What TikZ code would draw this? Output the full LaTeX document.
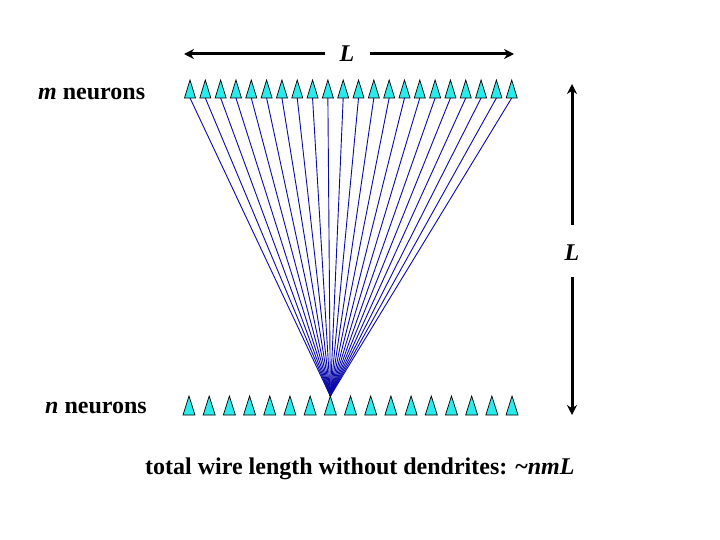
\documentclass[tikz,border=0pt]{standalone}
\usepackage{fontspec}
\setmainfont{Liberation Serif}
\usetikzlibrary{arrows.meta}
\definecolor{tricyan}{RGB}{40,235,235}
\definecolor{wireblue}{RGB}{10,10,170}
\tikzset{
  neuron/.style={fill=tricyan,draw=black,line width=0.7pt,line join=miter},
  wire/.style={draw=wireblue,line width=0.9pt},
  dimarrow/.style={line width=3pt,-{Stealth[length=10pt,width=10pt]}},
  lbl/.style={font=\fontsize{24}{28}\selectfont\bfseries,inner sep=0pt},
}
\begin{document}
\begin{tikzpicture}[x=1pt,y=-1pt]
\useasboundingbox[fill=white] (0,0) rectangle (720,540);
% bottom neurons: apex coordinates
\foreach \j in {0,...,16}{
  \pgfmathsetmacro\bx{189+\j*20.19}
  \coordinate (b\j) at (\bx,396);
}
% top neurons: base centre coordinates
\foreach \i in {0,...,21}{
  \pgfmathsetmacro\tx{190+\i*15.32}
  \coordinate (t\i) at (\tx,98);
}
% wires
\foreach \i in {0,...,21}{
  \draw[wire] (t\i) -- (b7);
}
% top triangles
\foreach \i in {0,...,21}{
  \draw[neuron] (t\i) ++(-5.5,0) -- ++(5.5,-18) -- ++(5.5,18) -- cycle;
}
% bottom triangles
\foreach \j in {0,...,16}{
  \draw[neuron] (b\j) -- ++(6,19) -- ++(-12,0) -- cycle;
}
% labels
\node[lbl,anchor=base west] (mlab) at (38,100) {\itshape m\upshape{} neurons};
\node[lbl,anchor=base west] (nlab) at (45,413) {\itshape n\upshape{} neurons};
\node[lbl,anchor=base west] (total) at (145,474) {total wire length without dendrites: \textasciitilde\itshape nmL};
% horizontal L arrow
\node[lbl] (Ltop) at (347,54) {\itshape L};
\coordinate (hlm) at (325,54);
\coordinate (hrm) at (370,54);
\coordinate (hl) at (184,54);
\coordinate (hr) at (514,54);
\draw[dimarrow] (hlm) -- (hl);
\draw[dimarrow] (hrm) -- (hr);
% vertical L arrow
\node[lbl] (Lright) at (572,253) {\itshape L};
\coordinate (vtm) at (572,225);
\coordinate (vbm) at (572,277);
\coordinate (vt) at (572,84);
\coordinate (vb) at (572,415);
\draw[dimarrow] (vtm) -- (vt);
\draw[dimarrow] (vbm) -- (vb);
\end{tikzpicture}
\end{document}
